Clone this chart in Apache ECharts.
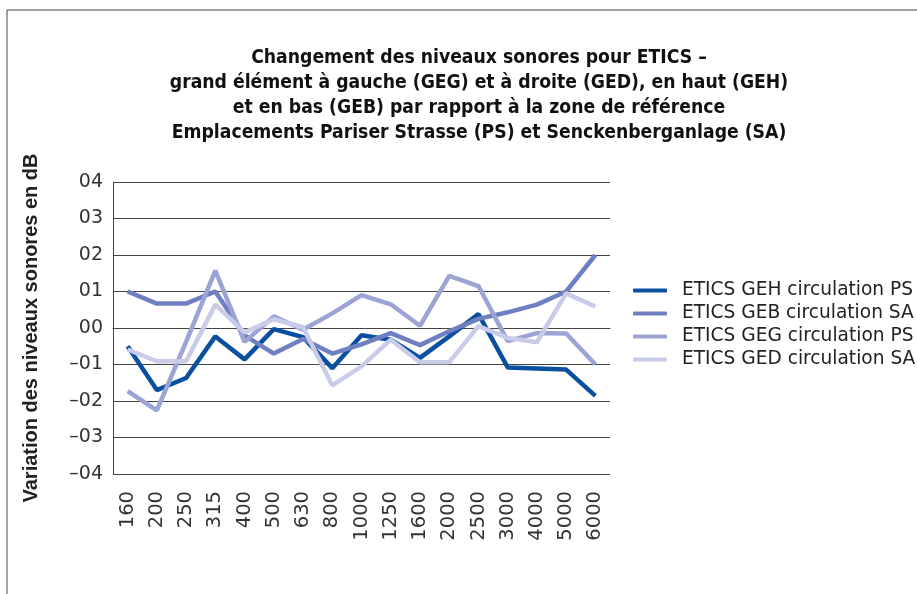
<!DOCTYPE html>
<html>
<head>
<meta charset="utf-8">
<script src="https://cdn.jsdelivr.net/npm/echarts@6/dist/echarts.min.js"></script>
<style>
  html, body { margin: 0; padding: 0; background: #fff; }
  #chart { width: 917px; height: 594px; }
</style>
</head>
<body>
<div id="chart"></div>
<script>
// frequency bands (Hz)
var categories = ['160','200','250','315','400','500','630','800','1000','1250','1600','2000','2500','3000','4000','5000','6000'];

var gehPS = [-0.05, -0.17, -0.137, -0.023, -0.086, -0.003, -0.025, -0.11, -0.02, -0.032, -0.082, -0.023, 0.038, -0.108, -0.111, -0.114, -0.186];
var gebSA = [0.1, 0.067, 0.067, 0.1, -0.02, -0.07, -0.03, -0.07, -0.045, -0.014, -0.047, -0.009, 0.025, 0.043, 0.064, 0.1, 0.2];
var gegPS = [-0.173, -0.226, -0.038, 0.157, -0.038, 0.032, -0.005, 0.04, 0.09, 0.065, 0.006, 0.143, 0.115, -0.036, -0.014, -0.015, -0.1];
var gedSA = [-0.059, -0.091, -0.091, 0.064, -0.012, 0.024, 0.002, -0.157, -0.105, -0.032, -0.094, -0.094, 0.005, -0.027, -0.039, 0.095, 0.059];

var seriesNames = ['ETICS GEH circulation PS', 'ETICS GEB circulation SA', 'ETICS GEG circulation PS', 'ETICS GED circulation SA'];
var yTickLabels = ['\u201304', '\u201303', '\u201302', '\u201301', '00', '01', '02', '03', '04'];

var colors = ['#0a4fa0', '#6f80c2', '#9ba4d5', '#c8cce9'];

var titleText = 'Changement des niveaux sonores pour ETICS \u2013\n' +
  'grand \u00e9l\u00e9ment \u00e0 gauche (GEG) et \u00e0 droite (GED), en haut (GEH)\n' +
  'et en bas (GEB) par rapport \u00e0 la zone de r\u00e9f\u00e9rence\n' +
  'Emplacements Pariser Strasse (PS) et Senckenberganlage (SA)';

var labelFont = '"DejaVu Sans", sans-serif';

var myChart = echarts.init(document.getElementById('chart'));

var allData = [gehPS, gebSA, gegPS, gedSA];
var series = [];
for (var i = 0; i < allData.length; i++) {
  series.push({
    name: seriesNames[i],
    type: 'line',
    data: allData[i],
    symbol: 'none',
    lineStyle: { color: colors[i], width: 4.5 },
    itemStyle: { color: colors[i] }
  });
}

myChart.setOption({
  animation: false,
  color: colors,
  graphic: [{
    type: 'rect',
    shape: { x: 7, y: 10, width: 940, height: 620 },
    style: { fill: 'none', stroke: '#444', lineWidth: 1 },
    silent: true
  }],
  title: {
    text: titleText,
    left: 474,
    top: 41,
    textAlign: 'center',
    textStyle: {
      fontFamily: '"DejaVu Sans Condensed", "DejaVu Sans", sans-serif',
      fontWeight: 'bold',
      fontSize: 19.2,
      lineHeight: 25,
      color: '#111'
    }
  },
  legend: {
    orient: 'vertical',
    left: 628,
    top: 276,
    itemWidth: 34,
    itemHeight: 4,
    itemGap: 4,
    icon: 'roundRect',
    textStyle: {
      fontFamily: labelFont,
      fontSize: 18.6,
      color: '#222',
      padding: [0, 0, 0, 10]
    },
    data: seriesNames
  },
  grid: { left: 113, right: 307, top: 182, bottom: 120 },
  xAxis: {
    type: 'category',
    data: categories,
    boundaryGap: true,
    axisLine: { lineStyle: { color: '#444', width: 1 } },
    axisTick: { show: false },
    axisLabel: {
      rotate: 90,
      margin: 17,
      fontFamily: labelFont,
      fontSize: 19.5,
      color: '#333'
    }
  },
  yAxis: {
    type: 'value',
    min: -0.4,
    max: 0.4,
    interval: 0.1,
    name: 'Variation des niveaux sonores en dB',
    nameLocation: 'middle',
    nameGap: 72,
    nameTextStyle: {
      fontFamily: '"Liberation Sans", Arial, sans-serif',
      fontWeight: 'bold',
      fontSize: 20,
      color: '#222'
    },
    axisLine: { show: true, lineStyle: { color: '#444', width: 1 } },
    axisTick: { show: false },
    splitLine: { lineStyle: { color: '#444', width: 1 } },
    axisLabel: {
      margin: 10,
      fontFamily: labelFont,
      fontSize: 19,
      color: '#333',
      formatter: function (v) {
        return yTickLabels[Math.round(v * 10) + 4];
      }
    }
  },
  series: series
});

window.addEventListener('resize', function () {
  myChart.resize();
});
</script>
</body>
</html>
